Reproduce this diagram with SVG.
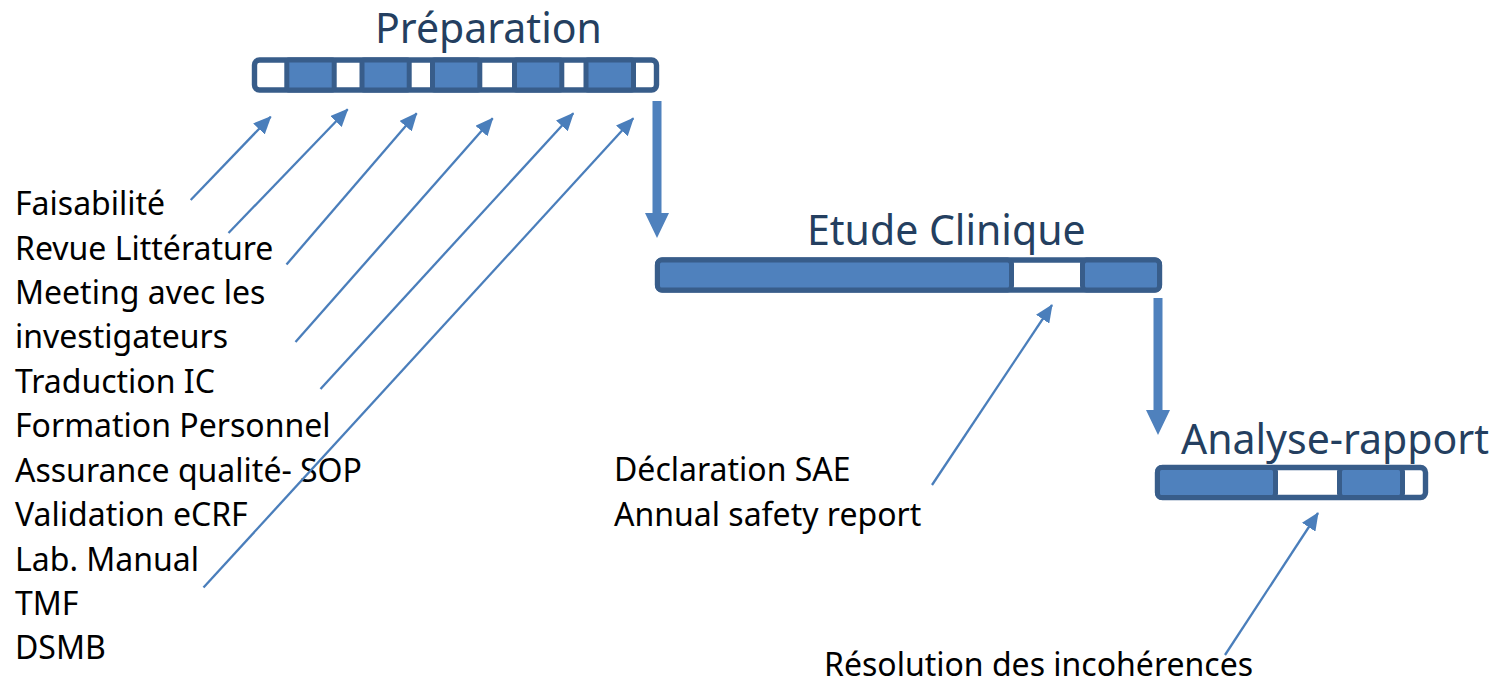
<svg xmlns="http://www.w3.org/2000/svg" width="1499" height="683" viewBox="0 0 1499 683">
<style>
.txt{font-family:"Noto Sans","Liberation Sans",sans-serif;font-size:32px;fill:#000}
.title{font-family:"Noto Sans","Liberation Sans",sans-serif;font-size:41px;fill:#243F60}
.outer{fill:#fff;stroke:#385D8A;stroke-width:5.4}
.seg{fill:#4F81BD;stroke:#385D8A;stroke-width:5}
.thin{stroke:#4A7EBB;stroke-width:2.3;fill:none;marker-end:url(#ah)}
.thick{fill:#4F81BD}
</style>
<defs>
<marker id="ah" markerUnits="userSpaceOnUse" markerWidth="18" markerHeight="16" refX="17" refY="8" orient="auto" viewBox="0 0 18 16">
<path d="M0,0 L18,8 L0,16 Z" fill="#4A7EBB"/>
</marker>
</defs>
<rect width="1499" height="683" fill="#fff"/>

<g id="preparation">
<text class="title" x="375" y="43">Préparation</text>
<rect class="outer" x="254.5" y="60" width="402" height="30" rx="5"/>
<rect class="seg" x="286.8" y="60" width="47.4" height="30" rx="2"/>
<rect class="seg" x="362" y="60" width="47.2" height="30" rx="2"/>
<rect class="seg" x="432.5" y="60" width="47.3" height="30" rx="2"/>
<rect class="seg" x="514.5" y="60" width="47.3" height="30" rx="2"/>
<rect class="seg" x="586" y="60" width="47.5" height="30" rx="2"/>
</g>

<g id="etude">
<text class="title" x="807" y="245">Etude Clinique</text>
<rect class="outer" x="657.5" y="260" width="502" height="30" rx="5"/>
<rect class="seg" x="657.5" y="260" width="354" height="30" rx="4"/>
<rect class="seg" x="1082.5" y="260" width="77" height="30" rx="4"/>
</g>

<g id="analyse">
<text class="title" x="1181" y="454">Analyse-rapport</text>
<rect class="outer" x="1157.5" y="467.5" width="268" height="30" rx="5"/>
<rect class="seg" x="1157.5" y="467.5" width="118" height="30" rx="4"/>
<rect class="seg" x="1339.5" y="467.5" width="63" height="30" rx="4"/>
</g>

<g id="prep-tasks">
<text class="txt" x="15" y="215">Faisabilité</text>
<text class="txt" x="15" y="259.5">Revue Littérature</text>
<text class="txt" x="15" y="304">Meeting avec les</text>
<text class="txt" x="15" y="348">investigateurs</text>
<text class="txt" x="15" y="393">Traduction IC</text>
<text class="txt" x="15" y="437">Formation Personnel</text>
<text class="txt" x="15" y="482">Assurance qualité- SOP</text>
<text class="txt" x="15" y="526">Validation eCRF</text>
<text class="txt" x="15" y="570.5">Lab. Manual</text>
<text class="txt" x="15" y="615">TMF</text>
<text class="txt" x="15" y="659">DSMB</text>
</g>

<g id="etude-tasks">
<text class="txt" x="614" y="481">Déclaration SAE</text>
<text class="txt" x="614" y="525.5">Annual safety report</text>
</g>

<g id="analyse-tasks">
<text class="txt" x="824" y="676">Résolution des incohérences</text>
</g>

<g id="connectors">
<line class="thin" x1="190.7" y1="200" x2="270.7" y2="116.7"/>
<line class="thin" x1="228.5" y1="233" x2="347.7" y2="109.3"/>
<line class="thin" x1="286.5" y1="264.5" x2="416.7" y2="113.3"/>
<line class="thin" x1="295.5" y1="342" x2="492.7" y2="118.3"/>
<line class="thin" x1="320.5" y1="389" x2="573.3" y2="113.3"/>
<line class="thin" x1="203.5" y1="587.5" x2="633.3" y2="118.3"/>
<line class="thin" x1="932" y1="485" x2="1052" y2="305"/>
<line class="thin" x1="1225" y1="655" x2="1318" y2="513"/>
<polygon class="thick" points="652.5,101 661.5,101 661.5,213 669,213 657,238 645,213 652.5,213"/>
<polygon class="thick" points="1153.5,298 1162.5,298 1162.5,410 1170,410 1158,435 1146,410 1153.5,410"/>
</g>
</svg>
